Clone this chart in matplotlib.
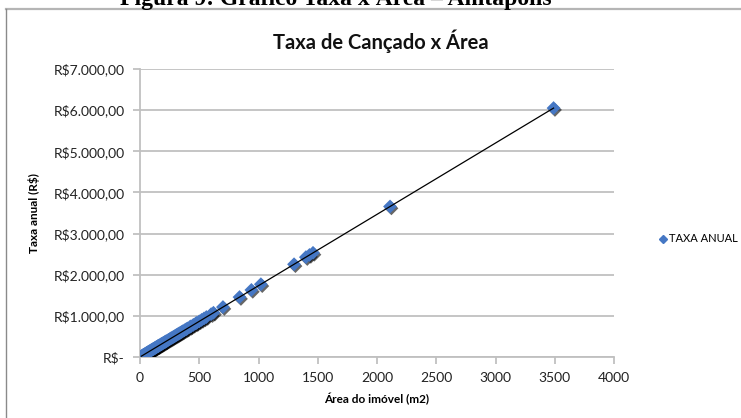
import matplotlib
matplotlib.use("Agg")
import matplotlib.pyplot as plt
import matplotlib.patheffects as pe
from matplotlib.ticker import FuncFormatter, MultipleLocator
from matplotlib.lines import Line2D
import numpy as np

plt.rcParams['font.family'] = ['Lato', 'DejaVu Sans']

# area of each property (m2) and its yearly fee (R$)
area = [12, 18, 25, 30, 36, 42, 48, 55, 60, 65, 70, 75, 80, 86, 90, 95, 100,
        105, 110, 115, 120, 126, 130, 135, 140, 148, 150, 156, 160, 168, 175,
        180, 186, 192, 200, 210, 215, 220, 230, 240, 250, 260, 270, 280, 290,
        300, 310, 320, 330, 340, 350, 360, 375, 390, 400, 420, 430, 450, 470,
        480, 500, 520, 540, 560, 600, 620, 700, 840, 940, 1020, 1300, 1400,
        1430, 1460, 2110, 3490]
taxa = [20.80, 31.20, 43.34, 52.01, 62.41, 72.81, 83.21, 95.34, 104.01,
        112.68, 121.35, 130.01, 138.68, 149.08, 156.02, 164.68, 173.35,
        182.02, 190.69, 199.35, 208.02, 218.42, 225.36, 234.02, 242.69,
        256.56, 260.03, 270.43, 277.36, 291.23, 303.36, 312.03, 322.43,
        332.83, 346.70, 364.04, 372.70, 381.37, 398.71, 416.04, 433.38,
        450.71, 468.05, 485.38, 502.72, 520.05, 537.39, 554.72, 572.06,
        589.39, 606.73, 624.06, 650.06, 676.07, 693.40, 728.07, 745.41,
        780.08, 814.75, 832.08, 866.75, 901.42, 936.09, 970.76, 1040.10,
        1074.77, 1213.45, 1456.14, 1629.49, 1768.17, 2253.55, 2426.90,
        2478.91, 2530.91, 3657.69, 6049.92]

blue = '#4577c4'
grid_c = '#c0c0c0'

fig = plt.figure(figsize=(7.41, 4.18), dpi=100)

# caption above the chart box, its top half runs off the page
fig.text(336 / 741, 1 - 5 / 418, 'Figura 9: Gráfico Taxa x Área – Anitápolis',
         ha='center', va='baseline', fontsize=17, fontweight='bold',
         family='Liberation Serif')

# chart frame (top and left edges)
fig.add_artist(Line2D([6 / 741, 1], [1 - 9 / 418, 1 - 9 / 418],
                      transform=fig.transFigure, color='#b5b5b5', lw=1.6))
fig.add_artist(Line2D([6 / 741, 6 / 741], [0, 1 - 9 / 418],
                      transform=fig.transFigure, color='#8a8a8a', lw=1.0))

fig.text(381 / 741, 1 - 41 / 418, 'Taxa de Cançado x Área', ha='center',
         va='center', fontsize=14.5, fontweight='bold', color='#111111')

ax = fig.add_axes([140 / 741, 1 - 357 / 418, 474 / 741, 288 / 418])

sc = ax.scatter(area, taxa, marker='D', s=50, color=blue, zorder=3,
                linewidths=0)
sc.set_path_effects([pe.SimplePatchShadow(offset=(1.0, -1.3),
                                          shadow_rgbFace='black', alpha=0.6),
                     pe.Normal()])

# linear trendline
k, b = np.polyfit(area, taxa, 1)
xs = np.array([min(area), max(area)])
ax.plot(xs, k * xs + b, color='black', lw=0.9, zorder=4)

ax.set_xlim(0, 4000)
ax.set_ylim(0, 7000)
ax.xaxis.set_major_locator(MultipleLocator(500))
ax.yaxis.set_major_locator(MultipleLocator(1000))


def reais(v, pos):
    if v == 0:
        return 'R$-'
    s = f'{v:,.2f}'.replace(',', 'X').replace('.', ',').replace('X', '.')
    return 'R$' + s


ax.yaxis.set_major_formatter(FuncFormatter(reais))
ax.grid(axis='y', color=grid_c, lw=1.3)
ax.set_axisbelow(True)
for side in ['top', 'right']:
    ax.spines[side].set_visible(False)
for side in ['left', 'bottom']:
    ax.spines[side].set_color(grid_c)
    ax.spines[side].set_linewidth(1.3)
ax.tick_params(axis='both', colors=grid_c, length=5, width=1.3,
               labelcolor='#222222', labelsize=10)
ax.tick_params(axis='y', pad=6)
ax.tick_params(axis='x', pad=6)

ax.set_xlabel('Área do imóvel (m2)', fontsize=8.5, fontweight='bold',
              labelpad=6)
ax.set_ylabel('Taxa anual (R$)', fontsize=8.5, fontweight='bold',
              labelpad=10)

leg = ax.legend(handles=[Line2D([], [], marker='D', ls='none', color=blue,
                                markersize=4.5, label='TAXA ANUAL')],
                loc='center left', bbox_to_anchor=(1.07, 0.41), frameon=False,
                fontsize=8, handletextpad=0.1, handlelength=1.0)

fig.savefig('out.png', dpi=100)
